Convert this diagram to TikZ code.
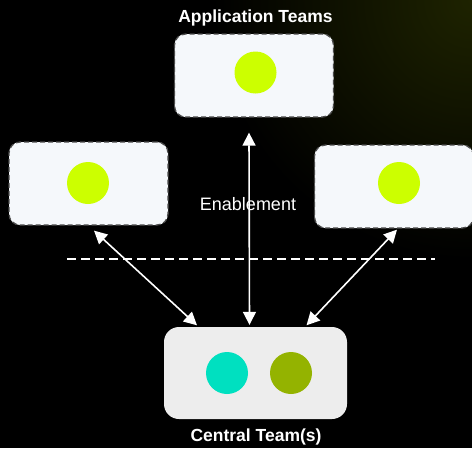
\documentclass[tikz,border=0pt]{standalone}
\usepackage{fontspec}
\setmainfont{Liberation Sans}
\usetikzlibrary{arrows.meta,calc}
\definecolor{boxfill}{HTML}{F5F8FB}
\definecolor{boxline}{HTML}{4A4A4A}
\definecolor{cfill}{HTML}{EDEDED}
\definecolor{lime}{HTML}{CCFF00}
\definecolor{teal}{HTML}{00E0C0}
\definecolor{olive}{HTML}{94B300}
\definecolor{glow}{HTML}{1E2300}
\begin{document}
\begin{tikzpicture}[x=1pt,y=-1pt,
  teambox/.style={draw=boxline,fill=boxfill,line width=1.3pt,dash pattern=on 5pt off 3pt,rounded corners=11pt,minimum width=159pt,minimum height=83pt,inner sep=0pt},
  centralbox/.style={fill=cfill,rounded corners=15pt,minimum width=183pt,minimum height=92pt,inner sep=0pt},
  dot/.style={circle,minimum size=42pt,inner sep=0pt},
  title/.style={text=white,font=\bfseries\fontsize{17.5}{20}\selectfont},
  plain/.style={text=white,font=\fontsize{18}{21}\selectfont},
  link/.style={white,line width=1.6pt,{Triangle[length=13pt,width=13pt]}-{Triangle[length=13pt,width=13pt]}},
  sep/.style={white,line width=1.5pt,dash pattern=on 9pt off 5pt}]
\fill[black] (0,0) rectangle (472,448);
\begin{scope}
\clip (0,0) rectangle (472,448);
\shade[inner color=glow,outer color=black] (472,0) circle (260);
\end{scope}
\useasboundingbox (0,0) rectangle (472,448);

\node[teambox] (top) at (254,75.5) {};
\node[teambox] (left) at (88.5,183.5) {};
\node[teambox] (right) at (394,186.5) {};
\node[centralbox] (central) at (255.5,373) {};

\node[dot,fill=lime] (dtop) at (255.5,72.5) {};
\node[dot,fill=lime] (dleft) at (88,183) {};
\node[dot,fill=lime] (dright) at (399,183) {};
\node[dot,fill=teal] (dc1) at (227,373) {};
\node[dot,fill=olive] (dc2) at (291,373) {};

\node[title] (ttop) at (255.5,18) {Application Teams};
\node[title] (tcentral) at (256,437) {Central Team(s)};
\node[plain] (enable) at (248,204) {Enablement};

\coordinate (sepL) at (67,259);
\coordinate (sepR) at (435,259);
\draw[sep] (sepL) -- (sepR);

\draw[link] ($(top.south)+(-5,15)$) -- ($(central.north)+(-6,-2)$);
\draw[link] ($(left.south)+(5.5,5)$) -- ($(central.north)+(-58.5,-1.5)$);
\draw[link] ($(right.south)+(3,1)$) -- ($(central.north)+(51,-1.5)$);
\end{tikzpicture}
\end{document}
